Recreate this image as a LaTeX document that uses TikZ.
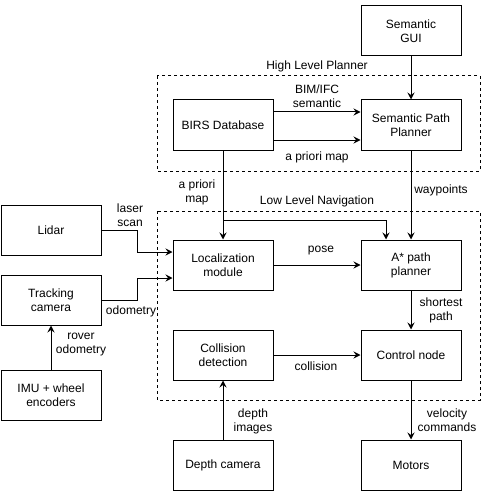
\documentclass[tikz,border=0pt]{standalone}
\usepackage{fontspec}
\setmainfont{Liberation Sans}
\usetikzlibrary{arrows.meta,positioning}
\begin{document}
\begin{tikzpicture}[
					x=1pt,y=-1pt,
					font=\fontsize{12}{14}\selectfont,
					line width=1pt,
					>={Stealth[length=7pt,width=7pt,inset=2.5pt]},
					block/.style={draw,minimum width=100pt,minimum height=50pt,align=center,inner sep=1pt},
					lbl/.style={align=center,inner sep=0pt},
					group/.style={draw,dash pattern=on 3pt off 3pt}
				]
				\useasboundingbox (0,0) rectangle (482,492);
				% planner groups
				\draw[group] (157,76) rectangle (480,171);
				\draw[group] (157,211) rectangle (480,400);
				\node[lbl] (hlp) at (317,66) {High Level Planner};
				\node[lbl] (lln) at (317,201) {Low Level Navigation};
				% blocks
				\node[block] (gui) at (411,31) {Semantic\\GUI};
				\node[block] (birs) at (223,125) {BIRS Database};
				\node[block] (spp) at (411,125) {Semantic Path\\Planner};
				\node[block] (lidar) at (51,230) {Lidar};
				\node[block] (track) at (51,300) {Tracking\\camera};
				\node[block] (imu) at (51,395) {IMU + wheel\\encoders};
				\node[block] (loc) at (223,265) {Localization\\module};
				\node[block] (astar) at (411,265) {A* path\\planner};
				\node[block] (coll) at (223,355) {Collision\\detection};
				\node[block] (ctrl) at (411,355) {Control node};
				\node[block] (depth) at (223,465) {Depth camera};
				\node[block] (motors) at (411,465) {Motors};
				\coordinate (split) at (223,220);
				% connectors
				\draw[->] (gui.south) -- (spp.north);
				\draw[->] ([yshift=13pt]birs.east) -- ([yshift=13pt]spp.west);
				\draw[->] ([yshift=-15pt]birs.east) -- ([yshift=-15pt]spp.west);
				\draw[->] (birs.south) -- (loc.north);
				\draw[->] (split) -| ([xshift=-25pt]astar.north);
				\draw[->] (spp.south) -- (astar.north);
				\draw[->] (lidar.east) -- ++(36,0) |- ([yshift=13pt]loc.west);
				\draw[->] (track.east) -- ++(36,0) |- ([yshift=-13pt]loc.west);
				\draw[->] (imu.north) -- (track.south);
				\draw[->] (loc.east) -- (astar.west);
				\draw[->] (astar.south) -- (ctrl.north);
				\draw[->] (coll.east) -- (ctrl.west);
				\draw[->] (depth.north) -- (coll.south);
				\draw[->] (ctrl.south) -- (motors.north);
				% labels
				\node[lbl] (semlbl) at (317,96) {BIM/IFC\\semantic};
				\node[lbl] (maplbl) at (317,157) {a priori map};
				\node[lbl] (map2lbl) at (197,192) {a priori\\map};
				\node[lbl] (waylbl) at (441,190) {waypoints};
				\node[lbl] (laserlbl) at (130,215) {laser\\scan};
				\node[lbl] (odolbl) at (131,311) {odometry};
				\node[lbl] (roverlbl) at (81,345) {rover\\odometry};
				\node[lbl] (poselbl) at (321,251) {pose};
				\node[lbl] (shortlbl) at (441,310) {shortest\\path};
				\node[lbl] (colllbl) at (316,366) {collision};
				\node[lbl] (depthlbl) at (253,421) {depth\\images};
				\node[lbl] (vellbl) at (447,420) {velocity\\commands};
			\end{tikzpicture}
\end{document}
